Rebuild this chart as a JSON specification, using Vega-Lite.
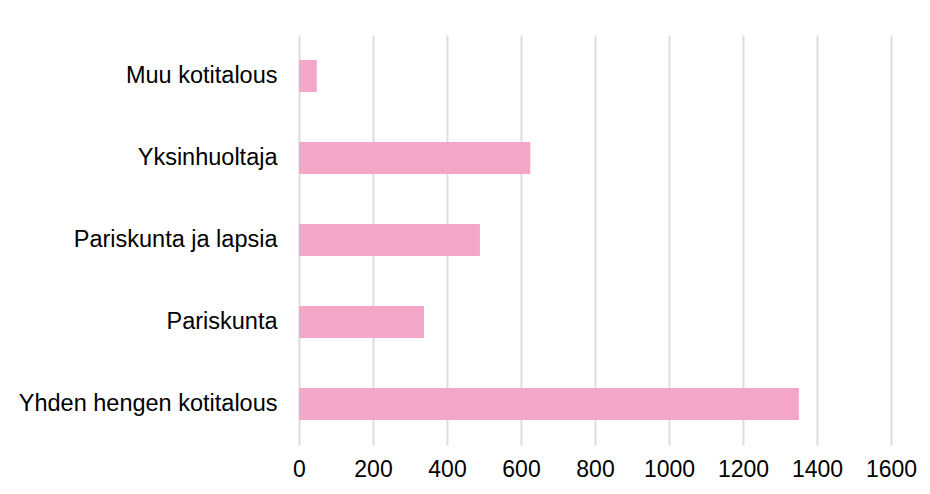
{
  "$schema": "https://vega.github.io/schema/vega-lite/v6.json",
  "width": 592,
  "height": 410,
  "autosize": {"type": "none"},
  "padding": {"left": 299, "top": 35, "right": 39, "bottom": 49},
  "background": "white",
  "data": {
    "values": [
      {"kotitalous": "Muu kotitalous", "lkm": 48},
      {"kotitalous": "Yksinhuoltaja", "lkm": 625},
      {"kotitalous": "Pariskunta ja lapsia", "lkm": 489},
      {"kotitalous": "Pariskunta", "lkm": 338},
      {"kotitalous": "Yhden hengen kotitalous", "lkm": 1351}
    ]
  },
  "mark": {"type": "bar", "color": "#f4a6c9"},
  "encoding": {
    "y": {
      "field": "kotitalous",
      "type": "nominal",
      "sort": null,
      "scale": {"paddingInner": 0.61, "paddingOuter": 0.305},
      "axis": {
        "title": null,
        "domain": false,
        "ticks": false,
        "grid": false,
        "labelFont": "Liberation Sans",
        "labelFontSize": 23.5,
        "labelColor": "#000000",
        "labelPadding": 22,
        "labelLimit": 400
      }
    },
    "x": {
      "field": "lkm",
      "type": "quantitative",
      "scale": {"domain": [0, 1600], "nice": false},
      "axis": {
        "title": null,
        "values": [0, 200, 400, 600, 800, 1000, 1200, 1400, 1600],
        "format": "d",
        "domain": false,
        "ticks": false,
        "grid": true,
        "gridColor": "#dddddd",
        "gridWidth": 2,
        "labelFont": "Liberation Sans",
        "labelFontSize": 23,
        "labelColor": "#000000",
        "labelPadding": 13,
        "labelFlush": false,
        "labelOverlap": false
      }
    }
  },
  "config": {"view": {"stroke": null}}
}
